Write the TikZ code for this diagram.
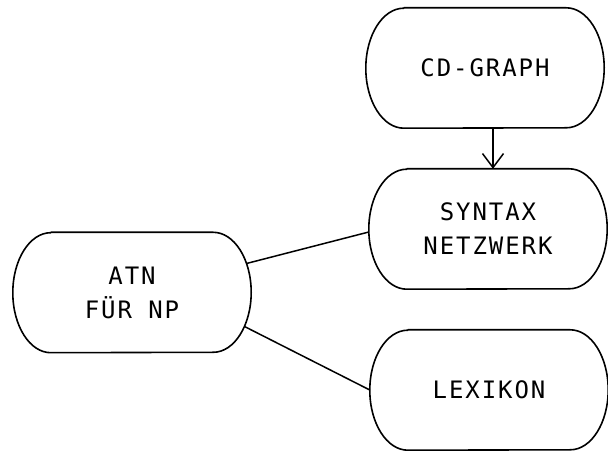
\documentclass[tikz,border=0pt]{standalone}
\usepackage{fontspec}
\newfontfamily\plotterfont[LetterSpace=8]{DejaVu Sans Mono}
\usetikzlibrary{arrows.meta}

% outline of a block: flat top and bottom, elliptic ends
\newcommand\blockoutline[1]{%
  \draw[outline] ([xshift=38pt]#1.north west) -- ([xshift=-38pt]#1.north east)
    arc[start angle=90,end angle=-90,x radius=38pt,y radius=60pt]
    -- ([xshift=38pt]#1.south west)
    arc[start angle=270,end angle=90,x radius=38pt,y radius=60pt] -- cycle;}

\tikzset{
  blockbox/.style={rectangle, minimum width=238pt, minimum height=120pt,
    inner sep=0pt, align=center, font=\plotterfont\fontsize{24}{34}\selectfont},
  outline/.style={line width=1.6pt, line join=round},
  link/.style={line width=1.5pt},
  feed/.style={line width=1.5pt, -{Straight Barb[length=14pt,width=21pt,line width=1.5pt]}}
}

\begin{document}
\begin{tikzpicture}[x=1pt,y=1pt]
  \useasboundingbox (0,0) rectangle (608,455);
  \fill[white] (0,0) rectangle (608,455);

  \node[blockbox] (cd)  at (485,387)   {CD-GRAPH};
  \node[blockbox] (syn) at (488,226)   {SYNTAX\\NETZWERK};
  \node[blockbox] (lex) at (489,65)    {LEXIKON};
  \node[blockbox] (atn) at (132,162.5) {ATN\\FÜR NP};

  \blockoutline{cd}
  \blockoutline{syn}
  \blockoutline{lex}
  \blockoutline{atn}

  \draw[feed] ([xshift=8pt]cd.south) -- ([xshift=8pt]cd.south |- syn.north);
  \draw[link] ([shift={(-4.7pt,29pt)}]atn.east) -- ([yshift=-3pt]syn.west);
  \draw[link] ([shift={(-6.7pt,-34pt)}]atn.east) -- (lex.west);
\end{tikzpicture}
\end{document}
